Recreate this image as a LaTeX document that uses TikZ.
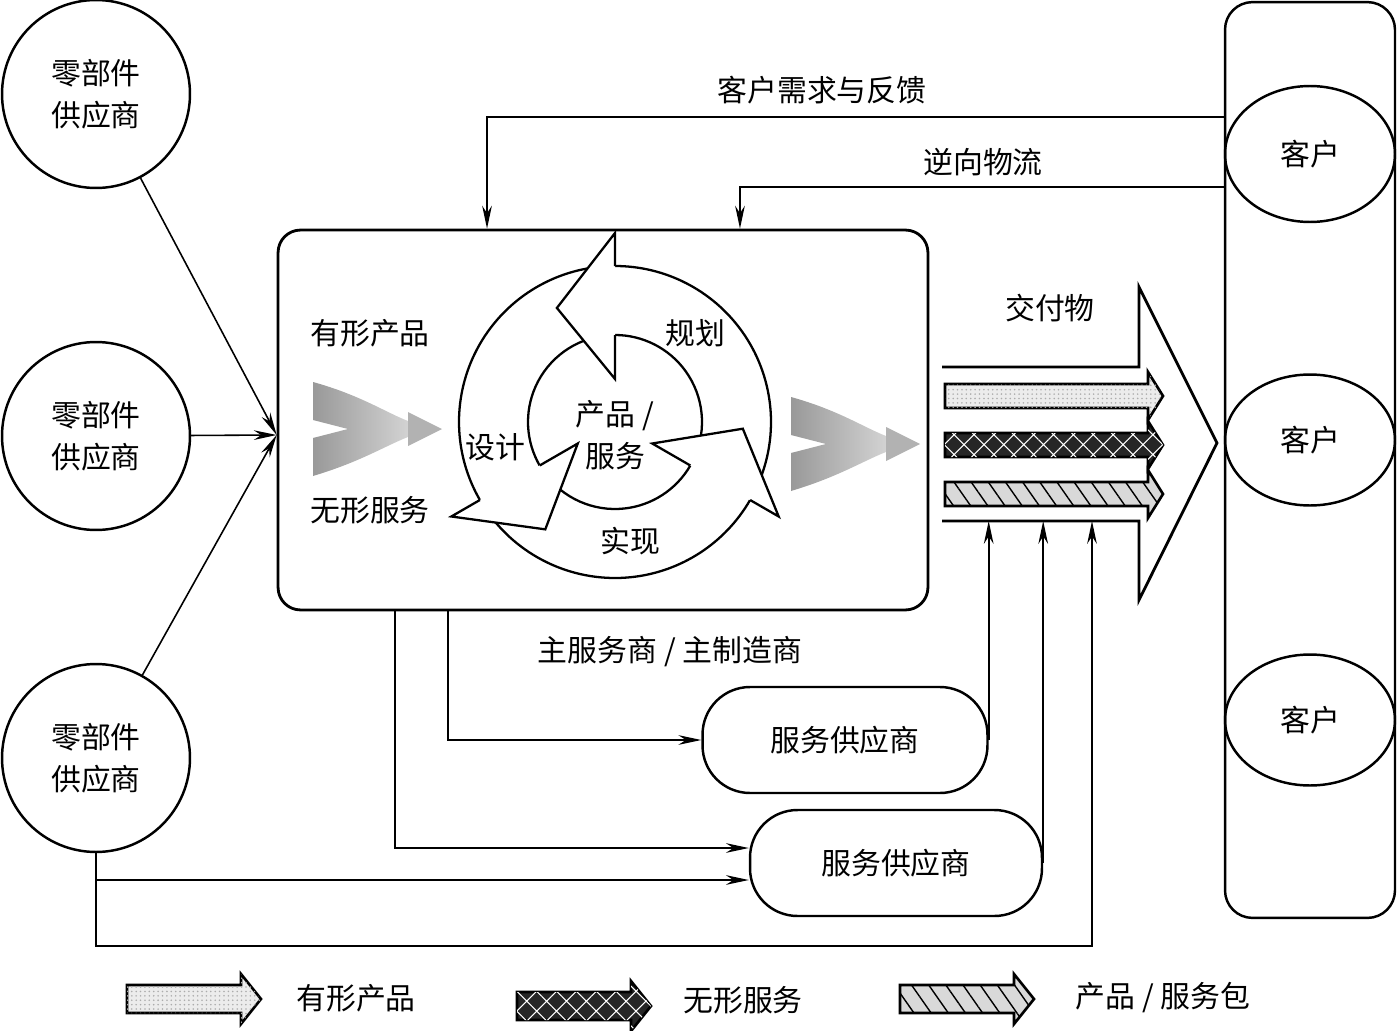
\documentclass[tikz,border=0pt]{standalone}
\usepackage{fontspec}
\setmainfont{Noto Sans CJK SC}
\usetikzlibrary{arrows.meta,shapes.geometric,patterns.meta}
\newcommand{\cnsize}{\fontsize{17}{23.8}\selectfont}

\begin{document}
\begin{tikzpicture}[x=0.02cm,y=-0.02cm,>={Stealth[length=13pt,width=5.5pt]},font=\cnsize,
  supplier/.style={circle,draw,line width=1.4pt,minimum size=3.76cm,align=center},
  customer/.style={ellipse,draw,line width=1.4pt,minimum width=3.4cm,minimum height=2.62cm},
  provider/.style={draw,line width=1.4pt,rounded corners=0.95cm,minimum height=2.12cm},
  flow/.style={->,line width=0.9pt},
  prodfill/.style={draw,line width=1.5pt,fill=gray!15,postaction={pattern={Dots[distance=2.5pt,radius=0.5pt]},pattern color=gray!65}},
  servfill/.style={draw,line width=1.5pt,fill=black!85,postaction={pattern={Hatch[angle=45,distance=8pt,line width=0.6pt]},pattern color=white}},
  packfill/.style={draw,line width=1.5pt,fill=gray!30,postaction={pattern={Lines[angle=-55,distance=8pt,line width=0.8pt]},pattern color=black}}]
  \useasboundingbox (0,0) rectangle (1397,1031);

  % Zulieferer
  \node[supplier] (sup1) at (96,94) {零部件\\供应商};
  \node[supplier] (sup2) at (96,436) {零部件\\供应商};
  \node[supplier] (sup3) at (96,758) {零部件\\供应商};

  % Hauptanbieter
  \node[draw,line width=1.6pt,rounded corners=0.45cm,minimum width=13cm,minimum height=7.6cm] (core) at (603,420) {};
  \coordinate (in) at ([yshift=-0.3cm]core.west);
  \foreach \s in {sup1,sup2,sup3}
    \draw[flow] (\s) -- (in);

  % Kunden
  \node[draw,line width=1.4pt,rounded corners=0.55cm,minimum width=3.4cm,minimum height=18.32cm] (cbox) at (1310,460) {};
  \node[customer,minimum height=2.72cm] (c1) at (1310,154) {客户};
  \node[customer] (c2) at (1310,440) {客户};
  \node[customer] (c3) at (1310,720) {客户};

  % Rueckfluss
  \draw[flow] ([yshift=-2.32cm]cbox.north west) -| ([xshift=-2.32cm]core.north);
  \draw[flow] ([yshift=-3.72cm]cbox.north west) -| ([xshift=2.74cm]core.north);
  \node (lfb) at (822,90) {客户需求与反馈};
  \node (lrev) at (983,162) {逆向物流};

  % Trichter
  \foreach \dx/\dy in {0/0,478/15} {
    \shade[left color=gray!80,right color=gray!35,shift={(\dx,\dy)}] (313,382) .. controls (360,395) and (385,412) .. (408,421) -- (408,437) .. controls (385,446) and (360,462) .. (313,476) -- (313,438) -- (348,429) -- (313,420) -- cycle;
    \fill[gray!60,shift={(\dx,\dy)}] (408,412) -- (442,429) -- (408,446) -- cycle;
  }
  \node (ltan) at (370,333) {有形产品};
  \node (lint) at (370,510) {无形服务};

  % Kreislauf
  \begin{scope}[shift={(615,422)},yscale=-1,line width=1.3pt]
    \foreach \b in {90,210,330} {
      \fill[white] (\b-114:156) arc[start angle=\b-114,end angle=\b,radius=156] -- (\b:87) arc[start angle=\b,end angle=\b-114,radius=87] -- cycle;
      \draw (\b-114:156) arc[start angle=\b-114,end angle=\b,radius=156];
      \draw (\b-114:87) arc[start angle=\b-114,end angle=\b,radius=87];
    }
    \foreach \b in {90,210,330} {
      \fill[white] (\b:189) -- (\b+27:128) -- (\b:43) -- cycle;
      \draw (\b:156) -- (\b:189) -- (\b+27:128) -- (\b:43) -- (\b:87);
    }
  \end{scope}
  \node (lplan) at (695,333) {规划};
  \node (ldes) at (495,447) {设计};
  \node (lreal) at (630,541) {实现};
  \node[align=center] (lps) at (615,435) {产品 /\\服务};

  % Lieferobjekt
  \draw[line width=1.6pt] (942,367) -- (1139,367) -- (1139,287) -- (1217,443) -- (1139,600) -- (1139,521) -- (942,521);
  \coordinate (dlv) at (942,521);
  \node (ldlv) at (1050,308) {交付物};
  \foreach \y/\s in {396/prodfill,445/servfill,494/packfill}
    \draw[\s] (945,\y-12) -- (1148,\y-12) -- (1148,\y-24) -- (1163,\y) -- (1148,\y+24) -- (1148,\y+12) -- (945,\y+12) -- cycle;

  % Dienstleister
  \node[provider,minimum width=5.7cm] (sp1) at (845,740) {服务供应商};
  \node[provider,minimum width=5.84cm] (sp2) at (896,863) {服务供应商};
  \node (lmain) at (670,652) {主服务商 / 主制造商};
  \draw[flow] ([xshift=-3.1cm]core.south) |- (sp1.west);
  \draw[flow] ([xshift=-4.16cm]core.south) |- ([yshift=0.3cm]sp2.west);
  \draw[flow] (sup3.south) |- ([yshift=-0.34cm]sp2.west);
  \coordinate (d3) at (1092,521);
  \draw[flow] (sup3.south) -- ++(0,93) -| (d3);
  \draw[flow] (sp1.east) -- (sp1.east |- dlv);
  \draw[flow] (sp2.east) -- (sp2.east |- dlv);

  % Legende
  \foreach \x/\y/\s in {127/999/prodfill,517/1006/servfill,900/999/packfill}
    \draw[\s] (\x,\y-14) -- (\x+114,\y-14) -- (\x+114,\y-25) -- (\x+134,\y) -- (\x+114,\y+25) -- (\x+114,\y+14) -- (\x,\y+14) -- cycle;
  \node (lg1) at (356,998) {有形产品};
  \node (lg2) at (743,1000) {无形服务};
  \node (lg3) at (1163,998) {产品 / 服务包};
\end{tikzpicture}
\end{document}
